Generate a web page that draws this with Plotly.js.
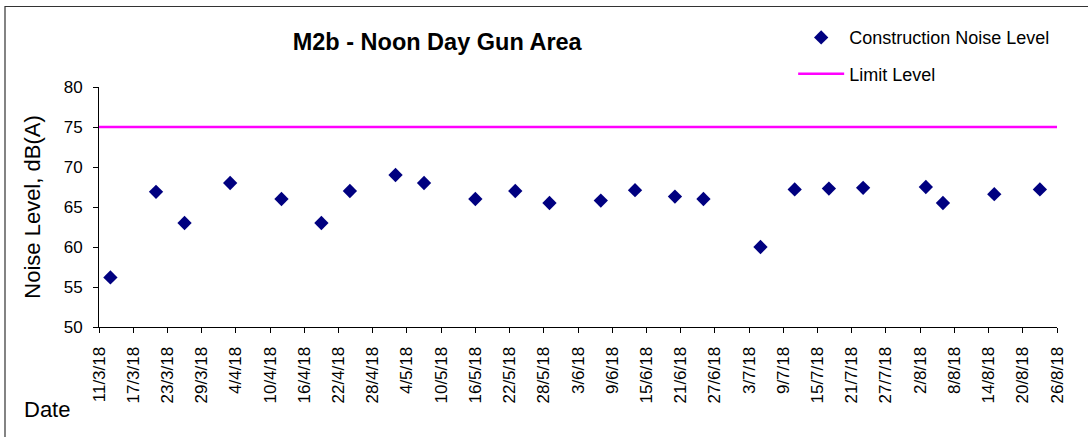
<!DOCTYPE html>
<html>
<head>
<meta charset="utf-8">
<script src="https://cdn.plot.ly/plotly-3.0.1.min.js"></script>
<style>html,body{margin:0;padding:0;background:#fff;}#chart{width:1088px;height:437px;}</style>
</head>
<body>
<div id="chart"></div>
<script>
// Measurement dates (day/month/2018)
const dates = ['2018-03-13','2018-03-21','2018-03-26','2018-04-03','2018-04-12','2018-04-19','2018-04-24',
  '2018-05-02','2018-05-07','2018-05-16','2018-05-23','2018-05-29','2018-06-07','2018-06-13','2018-06-20',
  '2018-06-25','2018-07-05','2018-07-11','2018-07-17','2018-07-23','2018-08-03','2018-08-06','2018-08-15','2018-08-23'];
// Construction noise level, dB(A)
const noise = [56.2,66.9,63.0,68.0,66.0,63.0,67.0,69.0,68.0,66.0,67.0,65.5,65.8,67.1,66.3,66.0,60.0,67.2,67.3,67.4,67.5,65.5,66.6,67.2];
// Limit level
const limitDates = ['2018-03-11','2018-08-26'];
const limitValues = [75,75];

const FONT = 'Liberation Sans, Arial, sans-serif';
const DAY = 86400000;

const traces = [
  {x: dates, y: noise, type: 'scatter', mode: 'markers', name: 'Construction Noise Level',
   legendgroup: 'a',
   marker: {symbol: 'diamond', size: 11, color: '#000080'}},
  {x: limitDates, y: limitValues, type: 'scatter', mode: 'lines', name: 'Limit Level',
   legendgroup: 'b',
   line: {color: '#FF00FF', width: 2.5}}
];

const layout = {
  width: 1088, height: 437,
  margin: {l: 99, r: 31, t: 87, b: 110},
  paper_bgcolor: '#fff', plot_bgcolor: '#fff',
  font: {family: FONT, color: '#000'},
  showlegend: true,
  title: {text: '<b>M2b - Noon Day Gun Area</b>', font: {family: FONT, size: 23.5, color: '#000'},
          x: 0.353, xref: 'paper', xanchor: 'center', y: 1 - 42/437, yref: 'container', yanchor: 'middle'},
  legend: {x: 0.7246, xanchor: 'left', y: 1.2825, yanchor: 'top', bgcolor: 'rgba(0,0,0,0)',
           font: {family: FONT, size: 18, color: '#000'}, tracegroupgap: 10, itemwidth: 46},
  xaxis: {type: 'date', range: ['2018-03-11','2018-08-26'], tick0: '2018-03-11', dtick: 6*DAY,
          tickformat: '%-d/%-m/%y', tickangle: -90, ticks: 'outside', ticklen: 5, tickcolor: '#000',
          showline: true, linecolor: '#000', linewidth: 1, showgrid: false, zeroline: false,
          tickfont: {family: FONT, size: 17, color: '#000'}, ticklabelstandoff: 7},
  yaxis: {range: [50, 80], dtick: 5, ticks: 'outside', ticklen: 5, tickcolor: '#000',
          showline: true, linecolor: '#000', linewidth: 1, showgrid: false, zeroline: false,
          tickfont: {family: FONT, size: 17, color: '#000'}, ticklabelstandoff: 7,
          title: {text: 'Noise Level, dB(A)', font: {family: FONT, size: 22, color: '#000'}, standoff: 16}},
  annotations: [
    {text: 'Date', xref: 'paper', yref: 'paper', x: (22-99)/958, xanchor: 'left', y: (327-409)/240, yanchor: 'middle',
     showarrow: false, font: {family: FONT, size: 22, color: '#000'}}
  ],
  shapes: [
    {type: 'rect', xref: 'paper', yref: 'paper', x0: (5-99)/958, x1: (1100-99)/958, y0: (327-450)/240, y1: (327-6.5)/240,
     line: {color: '#333', width: 1.2}, fillcolor: 'rgba(0,0,0,0)'}
  ]
};

Plotly.newPlot('chart', traces, layout, {displayModeBar: false, staticPlot: true});
</script>
</body>
</html>
